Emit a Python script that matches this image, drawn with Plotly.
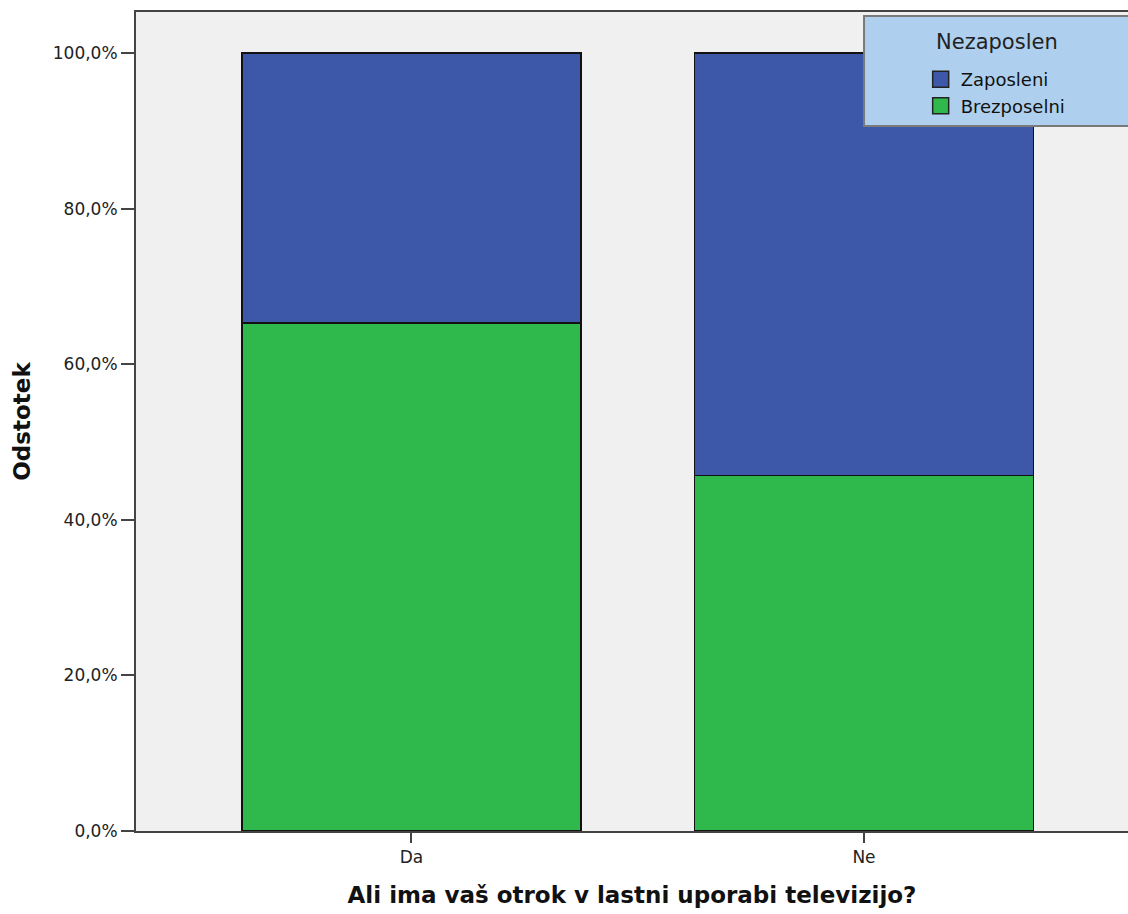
import plotly.graph_objects as go

categories = ["Da", "Ne"]
series_names = ["Brezposelni", "Zaposleni"]
brezposelni = [65.3, 45.7]
zaposleni = [34.7, 54.3]
tick_vals = [0, 20, 40, 60, 80, 100]
tick_text = ["0,0%", "20,0%", "40,0%", "60,0%", "80,0%", "100,0%"]
legend_title = "Nezaposlen"
x_title = "Ali ima vaš otrok v lastni uporabi televizijo?"
y_title = "Odstotek"

GREEN = "#2FB84B"
BLUE = "#3D58A9"
xpos = list(range(len(categories)))

fig = go.Figure()
fig.add_trace(go.Bar(x=xpos, y=brezposelni, name=series_names[0], marker=dict(color=GREEN, line=dict(color="#111111", width=1.5)),
                     width=0.749, showlegend=False))
fig.add_trace(go.Bar(x=xpos, y=zaposleni, name=series_names[1], marker=dict(color=BLUE, line=dict(color="#111111", width=1.5)),
                     width=0.749, showlegend=False))
# legend entries
for nm, col in [(series_names[1], BLUE), (series_names[0], GREEN)]:
    fig.add_trace(go.Scatter(x=[None], y=[None], mode="markers", name=nm,
                             marker=dict(symbol="square", size=16, color=col, line=dict(color="#222222", width=1.5))))

fig.update_layout(
    width=1128, height=914,
    barmode="stack",
    paper_bgcolor="white", plot_bgcolor="#F0F0F0",
    margin=dict(l=136, r=0, t=12, b=83),
    font=dict(family="DejaVu Sans", color="#222222"),
    showlegend=True,
    legend=dict(
        font=dict(size=18, family="DejaVu Sans", color="#111111"),
        x=0.791, y=0.940, xanchor="left", yanchor="top",
        bgcolor="rgba(0,0,0,0)", borderwidth=0,
        itemwidth=30, tracegroupgap=0, traceorder="normal",
    ),
    xaxis=dict(
        range=[-0.6088, 1.5835], tickvals=xpos, ticktext=categories,
        showline=True, linecolor="#444444", linewidth=2, mirror=True,
        ticks="outside", ticklen=10, tickwidth=1.5, tickcolor="#444444",
        tickfont=dict(size=17, family="DejaVu Sans", color="#222222"),
        showgrid=False, zeroline=False,
        title=dict(text=x_title, font=dict(size=23, family="DejaVu Sans", weight="bold", color="#111111"), standoff=20),
    ),
    yaxis=dict(
        range=[0, 105.27], tickvals=tick_vals, ticktext=tick_text,
        showline=True, linecolor="#444444", linewidth=2,
        ticks="outside", ticklen=13, tickwidth=2, tickcolor="#444444",
        tickfont=dict(size=17, family="DejaVu Sans", color="#222222"),
        showgrid=False, zeroline=False,
        title=dict(text=y_title, font=dict(size=23, family="DejaVu Sans", weight="bold", color="#111111"), standoff=16),
    ),
    shapes=[dict(type="rect", xref="paper", yref="paper", x0=0.7339, x1=1.05, y0=0.8608, y1=0.9951,
                 fillcolor="#AED0EE", line=dict(color="#7A7A7A", width=2), layer="above")],
    annotations=[dict(text=legend_title, xref="paper", yref="paper", x=0.868, y=0.9634,
                      xanchor="center", yanchor="middle", showarrow=False,
                      font=dict(size=21, family="DejaVu Sans", color="#222222"))],
)

fig.write_html("out.html", config={"displayModeBar": False},
               post_script="document.body.style.margin='0';document.body.style.overflow='hidden';")
